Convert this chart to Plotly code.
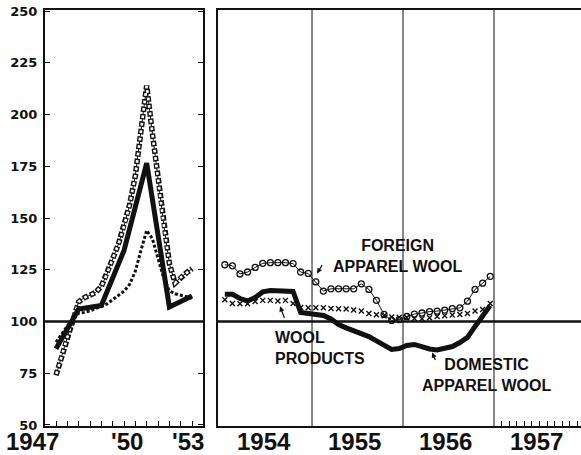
import plotly.graph_objects as go

# 1947-53: annual figures for domestic wool, quarterly readings for the other two
years_a = [1947, 1948, 1949, 1950, 1951, 1952, 1953]
domestic_a = [86.8, 106.0, 107.7, 134.3, 176.5, 107.0, 112.3]

quarters_a = [1947.0, 1947.25, 1947.5, 1947.75, 1948.0, 1948.25, 1948.5, 1948.75,
              1949.0, 1949.25, 1949.5, 1949.75, 1950.0, 1950.25, 1950.5, 1950.75,
              1951.0, 1951.25, 1951.5, 1951.75, 1952.0, 1952.25, 1952.5, 1952.75, 1953.0]
foreign_a = [74.0, 83.4, 92.9, 101.6, 109.5, 111.5, 112.7, 114.0,
             117.0, 123.0, 130.3, 137.3, 146.0, 156.5, 170.5, 192.0,
             214.0, 191.0, 169.0, 147.0, 128.0, 118.5, 121.3, 123.5, 125.5]
products_a = [90.0, 94.2, 97.8, 101.4, 104.0, 104.4, 105.1, 106.3,
              107.2, 108.5, 110.5, 112.6, 114.6, 118.0, 124.3, 134.5,
              144.0, 140.0, 130.0, 121.0, 114.8, 113.4, 112.7, 112.1, 111.3]

# 1954-56: monthly, plotted at mid-month
months_b = [1954 + (i + 0.5) / 12 for i in range(36)]
foreign_b = [127.4, 126.9, 123.0, 123.9, 126.1, 128.1, 128.4, 128.4, 128.4, 128.0, 123.9, 123.2,
             119.1, 114.7, 115.8, 115.8, 115.8, 115.8, 118.2, 115.5, 110.2, 103.4, 100.5, 100.9,
             102.4, 103.6, 104.1, 104.8, 105.0, 105.5, 106.2, 106.6, 109.8, 115.5, 118.5, 121.8]
domestic_b = [113.1, 113.1, 111.1, 109.9, 111.6, 114.3, 115.0, 115.0, 115.0, 114.5, 104.4, 103.9,
              103.9, 102.9, 101.2, 98.5, 96.9, 95.6, 94.4, 92.7, 90.6, 88.4, 86.5, 86.9,
              88.4, 88.9, 87.7, 86.7, 86.2, 86.9, 87.9, 89.8, 92.3, 97.6, 102.4, 107.7]
products_b = [110.5, 108.7, 108.6, 108.6, 109.7, 110.2, 110.2, 109.9, 110.2, 108.7, 106.8, 106.6,
              106.6, 106.6, 106.3, 106.1, 106.0, 105.6, 105.1, 103.9, 103.2, 102.8, 102.2, 102.1,
              101.9, 101.4, 101.3, 101.8, 102.4, 102.8, 103.1, 103.4, 103.9, 105.1, 105.8, 108.7]

left_labels = ['1947', "'50", "'53"]
left_label_pos = [1947, 1950, 1953]
right_labels = ['1954', '1955', '1956', '1957']
right_label_pos = [1954.5, 1955.5, 1956.5, 1957.5]
year_lines = [1955, 1956, 1957]

INK = '#111111'
LABEL_FONT = 'Liberation Sans, Arial, sans-serif'

fig = go.Figure()

# left panel - foreign wool drawn as a chain of small rings
fig.add_trace(go.Scatter(x=quarters_a, y=foreign_a, mode='lines', xaxis='x', yaxis='y',
                         line=dict(color=INK, width=1)))
fig.add_trace(go.Scatter(x=quarters_a, y=foreign_a, mode='lines', xaxis='x', yaxis='y',
                         line=dict(color=INK, width=5.5, dash='5.5px,2px')))
fig.add_trace(go.Scatter(x=quarters_a, y=foreign_a, mode='lines', xaxis='x', yaxis='y',
                         line=dict(color='white', width=2.7, dash='0px,1.4px,2.7px,3.4px')))
# wool products as a dotted line
fig.add_trace(go.Scatter(x=quarters_a, y=products_a, mode='lines', xaxis='x', yaxis='y',
                         line=dict(color=INK, width=3, dash='3px,2px')))
fig.add_trace(go.Scatter(x=years_a, y=domestic_a, mode='lines', xaxis='x', yaxis='y',
                         line=dict(color=INK, width=5)))

# right panel
fig.add_trace(go.Scatter(x=months_b, y=foreign_b, mode='lines+markers', xaxis='x2', yaxis='y2',
                         line=dict(color=INK, width=1),
                         marker=dict(symbol='circle-open', size=6, color=INK, line=dict(width=1.3))))
fig.add_trace(go.Scatter(x=months_b, y=products_b, mode='markers', xaxis='x2', yaxis='y2',
                         marker=dict(symbol='x-thin-open', size=5, color=INK, line=dict(width=1.4, color=INK))))
fig.add_trace(go.Scatter(x=months_b, y=domestic_b, mode='lines', xaxis='x2', yaxis='y2',
                         line=dict(color=INK, width=5)))

shapes = [
    dict(type='line', xref='x domain', yref='y', x0=0, x1=1, y0=100, y1=100,
         line=dict(color=INK, width=2.5)),
    dict(type='line', xref='x2 domain', yref='y2', x0=0, x1=1, y0=100, y1=100,
         line=dict(color=INK, width=2.5)),
]
for yr in year_lines:
    shapes.append(dict(type='line', xref='x2', yref='y2 domain', x0=yr, x1=yr, y0=0, y1=1,
                       line=dict(color=INK, width=1)))

annotations = []
for txt, pos, anchor, shift in zip(left_labels, left_label_pos, ['right', 'center', 'center'], [5, 3, -4]):
    annotations.append(dict(x=pos, y=0, xref='x', yref='paper', text='<b>%s</b>' % txt,
                            xanchor=anchor, yanchor='top', xshift=shift, yshift=0, showarrow=False,
                            font=dict(family=LABEL_FONT, size=24, color=INK)))
for txt, pos in zip(right_labels, right_label_pos):
    annotations.append(dict(x=pos, y=0, xref='x2', yref='paper', text='<b>%s</b>' % txt,
                            xanchor='center', yanchor='top', xshift=-3, yshift=0, showarrow=False,
                            font=dict(family=LABEL_FONT, size=24, color=INK)))

# series labels
label_font = dict(family=LABEL_FONT, size=16, color=INK)
annotations.append(dict(x=1955.94, y=131.5, xref='x2', yref='y2', showarrow=False,
                        text='<b>FOREIGN<br>APPAREL WOOL</b>', align='center', font=label_font))
annotations.append(dict(x=1954.571, y=87.4, xref='x2', yref='y2', showarrow=False, xanchor='left',
                        text='<b>WOOL<br>PRODUCTS</b>', align='left', font=label_font))
annotations.append(dict(x=1956.912, y=74.1, xref='x2', yref='y2', showarrow=False,
                        text='<b>DOMESTIC<br>APPAREL WOOL</b>', align='center', font=label_font))

# little pointer arrows
for hx, hy, ax, ay in [(1955.055, 123.2, 6, -10), (1954.648, 107.3, 5, 13), (1956.319, 85.0, 4, 9)]:
    annotations.append(dict(x=hx, y=hy, xref='x2', yref='y2', text='', showarrow=True,
                            ax=ax, ay=ay, arrowhead=2, arrowsize=0.8, arrowwidth=1.3,
                            arrowcolor=INK, standoff=0))

axis_common = dict(showline=True, linecolor=INK, linewidth=2, showgrid=False, zeroline=False)

fig.update_layout(
    width=581, height=455,
    margin=dict(l=45, r=0, t=10, b=29),
    paper_bgcolor='white', plot_bgcolor='white',
    showlegend=False,
    xaxis=dict(axis_common, domain=[0, 0.2948], range=[1946.515, 1953.484], mirror=True,
               tick0=1947, dtick=0.5, ticks='inside', ticklen=5, tickcolor=INK,
               showticklabels=False),
    yaxis=dict(axis_common, range=[49.5, 250.5], tick0=50, dtick=25, mirror='ticks',
               ticks='inside', ticklen=5, tickcolor=INK, ticklabelstandoff=3,
               tickfont=dict(family='DejaVu Sans', size=13, color=INK, weight='bold')),
    xaxis2=dict(axis_common, domain=[0.3228, 1], range=[1953.967, 1957.956], anchor='y2',
                mirror=True, tickmode='array',
                tickvals=[1957 + k / 12 for k in range(1, 12)],
                ticks='inside', ticklen=5, tickcolor=INK, tickwidth=1, showticklabels=False),
    yaxis2=dict(axis_common, range=[49.5, 250.5], anchor='x2', showticklabels=False),
    shapes=shapes,
    annotations=annotations,
)

# the page body has a default margin; drop it so the figure sits at the window's corner
fig.write_html("out.html", config={'displayModeBar': False},
               post_script="document.body.style.margin='0';")
